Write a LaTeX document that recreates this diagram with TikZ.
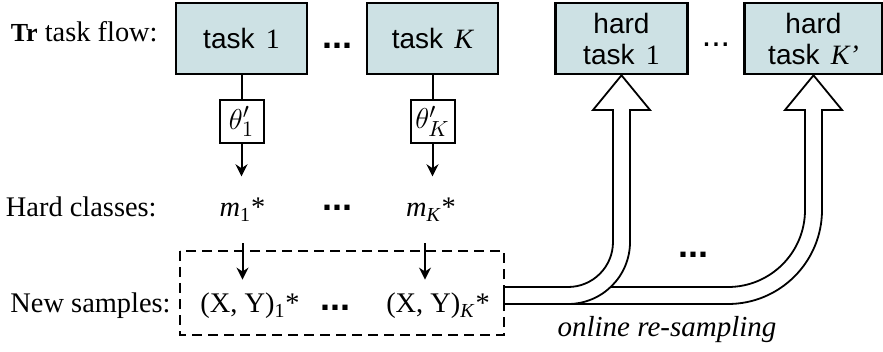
\documentclass[tikz,border=0pt]{standalone}
\usepackage{fontspec}
\setmainfont{Liberation Serif}
\setsansfont{Liberation Sans}
\usetikzlibrary{positioning,arrows.meta}

\definecolor{taskfill}{RGB}{205,225,228}

\tikzset{
  taskbox/.style={draw, line width=1.3pt, fill=taskfill, minimum height=35.5pt, align=center,
    font=\sffamily\fontsize{14}{15.5}\selectfont},
  parbox/.style={draw, line width=1pt, fill=white, minimum width=22pt, minimum height=21.5pt,
    inner sep=1pt, font=\fontsize{15.5}{18}\selectfont},
  rowtext/.style={inner sep=0pt, text height=10pt, text depth=3.5pt, font=\fontsize{14.2}{17}\selectfont},
  bigdots/.style={inner sep=0pt, font=\sffamily\bfseries\fontsize{18}{18}\selectfont},
  flow/.style={line width=1pt, -{Stealth[length=6pt,width=6pt]}},
  bigarrow/.style={line width=0.9pt, fill=white, line join=miter},
}

\begin{document}
\begin{tikzpicture}[x=0.5pt, y=-0.5pt]
  \useasboundingbox (0,0) rectangle (883,352);

  % task flow
  \node[taskbox, minimum width=65.5pt] (task1) at (241.5,38.5) {task\hspace{0.4em}{\rmfamily 1}};
  \node[taskbox, minimum width=65.5pt] (taskK) at (432.5,38.5) {task\hspace{0.4em}{\rmfamily\itshape K}};
  \node[taskbox, minimum width=66pt] (hard1) at (621.5,38.5) {hard\\task\hspace{0.4em}{\rmfamily 1}};
  \node[taskbox, minimum width=69pt] (hardK) at (813.5,38.5) {hard\\task\hspace{0.4em}{\rmfamily\itshape K’}};
  \node[bigdots] (dotsA) at (337,46) {...};
  \node[bigdots, font=\sffamily\fontsize{17}{17}\selectfont] (dotsB) at (716,45) {...};

  % row labels
  \node[rowtext, anchor=east] (flowlabel) at (158,35.2) {{\fontsize{13}{13}\selectfont\textbf{Tr}} task flow:};
  \node[rowtext, anchor=east] (classlabel) at (157,210.2) {Hard classes:};
  \node[rowtext, anchor=east] (samplelabel) at (171,306.5) {New samples:};

  % parameters
  \node[parbox] (theta1) at (241.5,121.5) {$\theta'_1$};
  \node[parbox] (thetaK) at (432.5,121.5) {$\theta'_K$};

  % hard classes
  \node[rowtext] (m1) at (242.5,210.2) {\textit{m}\textsubscript{1}*};
  \node[rowtext] (mK) at (431,210.2) {\textit{m}\textsubscript{\textit{K}}*};
  \node[bigdots] (dotsC) at (337,208) {...};

  % new samples
  \node[rowtext] (xy1) at (250,306.5) {(X, Y)\textsubscript{1}*};
  \node[rowtext] (xyK) at (438,306.5) {(X, Y)\textsubscript{\textit{K}}*};
  \node[bigdots] (dotsD) at (335,308) {...};
  \draw[line width=1pt, dash pattern=on 5pt off 3pt] (180,251) rectangle (504,335);

  % arrows
  \draw[line width=1pt] (task1) -- (theta1);
  \draw[line width=1pt] (taskK) -- (thetaK);
  \draw[flow, shorten >=10pt] (theta1) -- (theta1 |- m1.north);
  \draw[flow, shorten >=10pt] (thetaK) -- (thetaK |- mK.north);
  \draw[flow, shorten <=9.7pt, shorten >=6.5pt] (m1.south) -- (m1.south |- xy1.north);
  \draw[flow, shorten <=9.7pt, shorten >=6.5pt] ([xshift=-3pt]mK.south) -- ([xshift=-3pt]mK.south |- xyK.north);

  % online re-sampling
  \draw[bigarrow] (504,287) -- (728,287) arc[start angle=90, end angle=0, radius=77]
    -- (805,110) -- (785,110) -- (hardK.south) -- (842,110) -- (822,110)
    -- (822,210) arc[start angle=0, end angle=90, radius=94] -- (504,304) -- cycle;
  \draw[bigarrow] (504,287) -- (568,287) arc[start angle=90, end angle=0, radius=45]
    -- (613,110) -- (593,110) -- (hard1.south) -- (650,110) -- (630,110)
    -- (630,242) arc[start angle=0, end angle=90, radius=62] -- (504,304) -- cycle;
  \node[bigdots] (dotsE) at (693,255) {...};
  \node[rowtext, font=\itshape\fontsize{14.5}{17}\selectfont] (resample) at (667,330) {online re-sampling};
\end{tikzpicture}
\end{document}
